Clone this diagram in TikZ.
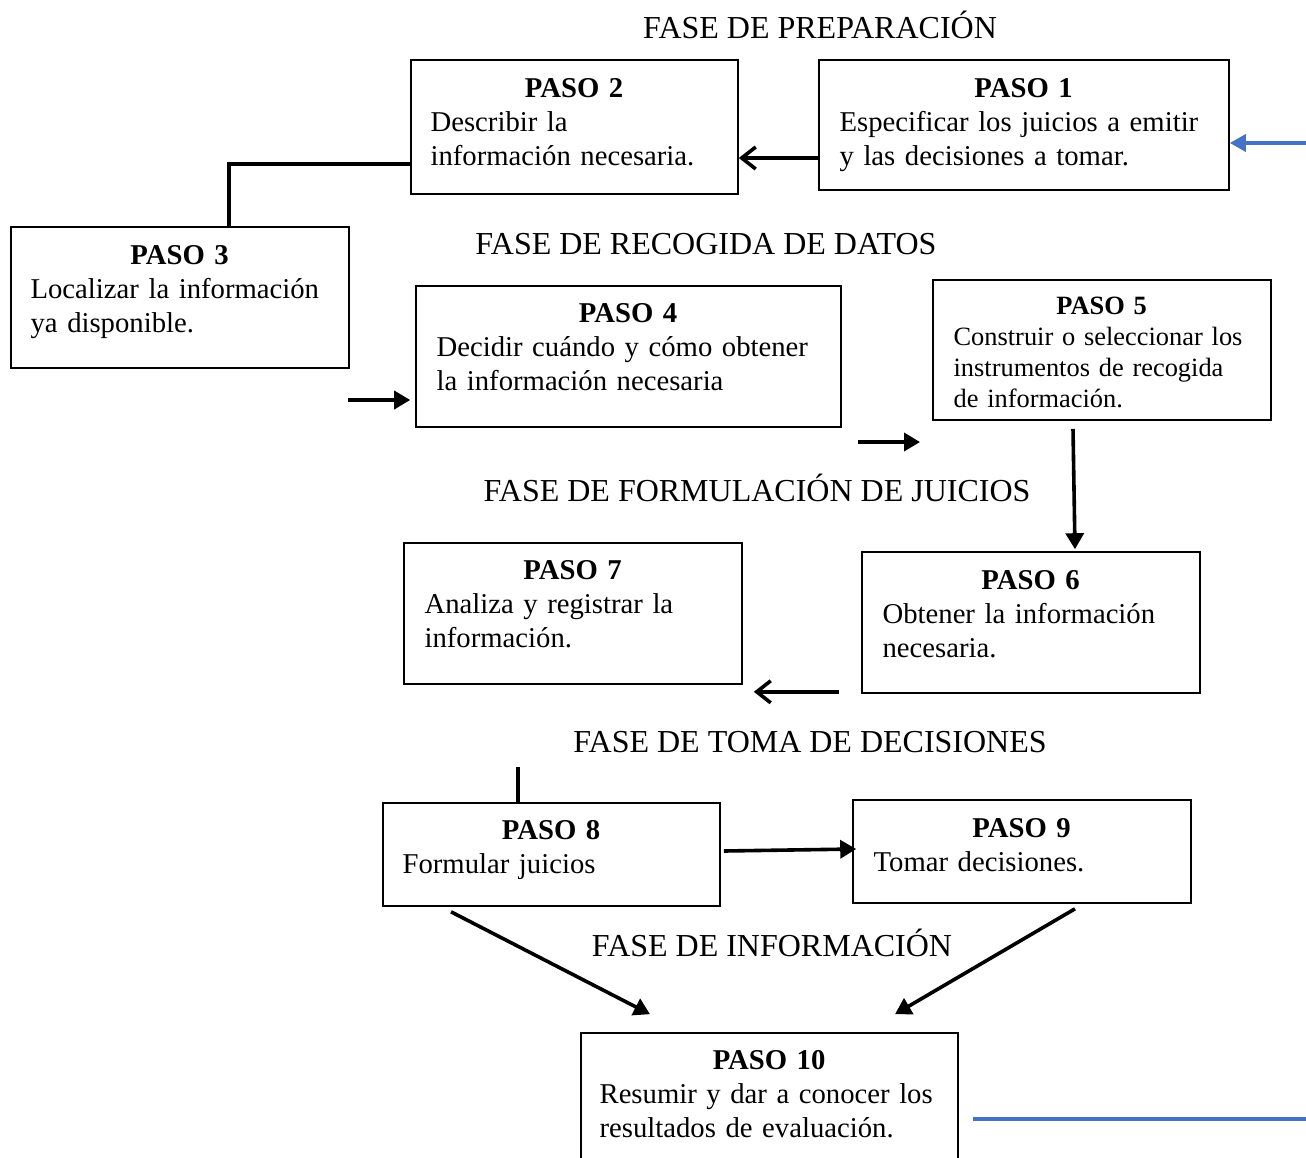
\documentclass[tikz,border=0pt]{standalone}
\usepackage{fontspec}
\setmainfont{Liberation Serif}
\usetikzlibrary{arrows.meta,calc}
\definecolor{azulref}{HTML}{4472C4}

\begin{document}
\begin{tikzpicture}[x = 0.5pt, y = -0.5pt,
	paso/.style = {draw, line width = 0.8pt, inner sep = 0pt},
	txt/.style = {anchor = north west, inner sep = 0pt, align = left, font = \fontsize{14.35}{17}\selectfont},
	fase/.style = {anchor = base, inner sep = 0pt, font = \fontsize{16}{19}\selectfont},
	flecha/.style = {line width = 1.8pt, -{Triangle[length = 8pt, width = 9pt]}},
	barb/.style = {line width = 1.8pt, -{Straight Barb[length = 7pt, width = 11pt]}},
	linea/.style = {line width = 1.8pt},
	azul/.style = {line width = 1.8pt, color = azulref}]

	\useasboundingbox (0, 0) rectangle (1306, 1157);

	% Phase titles

	\node [fase] (fprep) at (820, 38) {FASE DE PREPARACIÓN};
	\node [fase] (frec) at (706, 254) {FASE DE RECOGIDA DE DATOS};
	\node [fase] (fform) at (757, 501) {FASE DE FORMULACIÓN DE JUICIOS};
	\node [fase] (ftoma) at (810, 752) {FASE DE TOMA DE DECISIONES};
	\node [fase] (finfo) at (772, 956) {FASE DE INFORMACIÓN};

	% Boxes

	\node [paso, minimum width = 205pt, minimum height = 65pt] (p1) at (1024, 125) {};
	\node [paso, minimum width = 163.5pt, minimum height = 67pt] (p2) at (574.5, 127) {};
	\node [paso, minimum width = 169pt, minimum height = 70.5pt] (p3) at (180, 297.5) {};
	\node [paso, minimum width = 212.5pt, minimum height = 70.5pt] (p4) at (628.5, 356.5) {};
	\node [paso, minimum width = 169pt, minimum height = 70pt] (p5) at (1102, 350) {};
	\node [paso, minimum width = 169pt, minimum height = 70.5pt] (p6) at (1031, 622.5) {};
	\node [paso, minimum width = 169pt, minimum height = 70.5pt] (p7) at (573, 613.5) {};
	\node [paso, minimum width = 168.5pt, minimum height = 51.5pt] (p8) at (551.5, 854.5) {};
	\node [paso, minimum width = 169pt, minimum height = 51.5pt] (p9) at (1022, 851.5) {};
	\node [paso, minimum width = 188.5pt, minimum height = 65pt] (p10) at (769.5, 1098) {};

	% Texts in the boxes

	\node [txt, text width = 184pt] (t1) at ($(p1.north west) + (21, 19)$)
		{{\centering\textbf{PASO 1}\par}Especificar los juicios a emitir\\y las decisiones a tomar.};
	\node [txt, text width = 143.5pt] (t2) at ($(p2.north west) + (20, 19)$)
		{{\centering\textbf{PASO 2}\par}Describir la\\información necesaria.};
	\node [txt, text width = 149pt] (t3) at ($(p3.north west) + (20, 19)$)
		{{\centering\textbf{PASO 3}\par}Localizar la información\\ya disponible.};
	\node [txt, text width = 191.5pt] (t4) at ($(p4.north west) + (21, 18)$)
		{{\centering\textbf{PASO 4}\par}Decidir cuándo y cómo obtener\\la información necesaria};
	\node [txt, text width = 148pt, font = \fontsize{13.2}{15.5}\selectfont] (t5) at ($(p5.north west) + (21, 17)$)
		{{\centering\textbf{PASO 5}\par}Construir o seleccionar los\\instrumentos de recogida\\de información.};
	\node [txt, text width = 148pt] (t6) at ($(p6.north west) + (21, 19)$)
		{{\centering\textbf{PASO 6}\par}Obtener la información\\necesaria.};
	\node [txt, text width = 148pt] (t7) at ($(p7.north west) + (21, 18)$)
		{{\centering\textbf{PASO 7}\par}Analiza y registrar la\\información.};
	\node [txt, text width = 148.5pt] (t8) at ($(p8.north west) + (20, 18)$)
		{{\centering\textbf{PASO 8}\par}Formular juicios};
	\node [txt, text width = 148pt] (t9) at ($(p9.north west) + (21, 19)$)
		{{\centering\textbf{PASO 9}\par}Tomar decisiones.};
	\node [txt, text width = 169.5pt] (t10) at ($(p10.north west) + (19, 18)$)
		{{\centering\textbf{PASO 10}\par}Resumir y dar a conocer los\\resultados de evaluación.};

	% Free ends

	\coordinate (entrada) at (1306, 143);
	\coordinate (salida) at (1306, 1119);
	\coordinate (c34) at (348, 400);
	\coordinate (c45a) at (858, 442);
	\coordinate (c45b) at (920, 442);

	% Connectors

	\draw [azul, -{Triangle[length = 8pt, width = 8.5pt]}] (entrada) -- ($(p1.east) + (0, 18)$);
	\draw [barb] ($(p1.west) + (0, 33)$) -- ($(p2.east) + (0, 31)$);
	\draw [linea] ($(p2.west) + (0, 37)$) -| ($(p3.north) + (49, 0)$);
	\draw [flecha] (c34) -- ($(p4.west) + (-5, 43.5)$);
	\draw [flecha] (c45a) -- (c45b);
	\draw [flecha] ($(p5.south) + (-29, 8)$) -- ($(p6.north) + (44, -2)$);
	\draw [barb] ($(p6.south west) + (-22, -2)$) -- ($(p7.south east) + (11, 7)$);
	\draw [linea] ($(p8.north) + (-33.5, -35)$) -- ($(p8.north) + (-33.5, 0)$);
	\draw [flecha] ($(p8.east) + (3, -3.5)$) -- ($(p9.west) + (4, -2.5)$);
	\draw [flecha] ($(p8.south) + (-100.5, 5)$) -- ($(p10.north) + (-119.5, -18)$);
	\draw [flecha] ($(p9.south) + (53, 5)$) -- ($(p10.north) + (125.5, -18)$);
	\draw [azul] ($(p10.east) + (14, 21)$) -- (salida);

\end{tikzpicture}
\end{document}
